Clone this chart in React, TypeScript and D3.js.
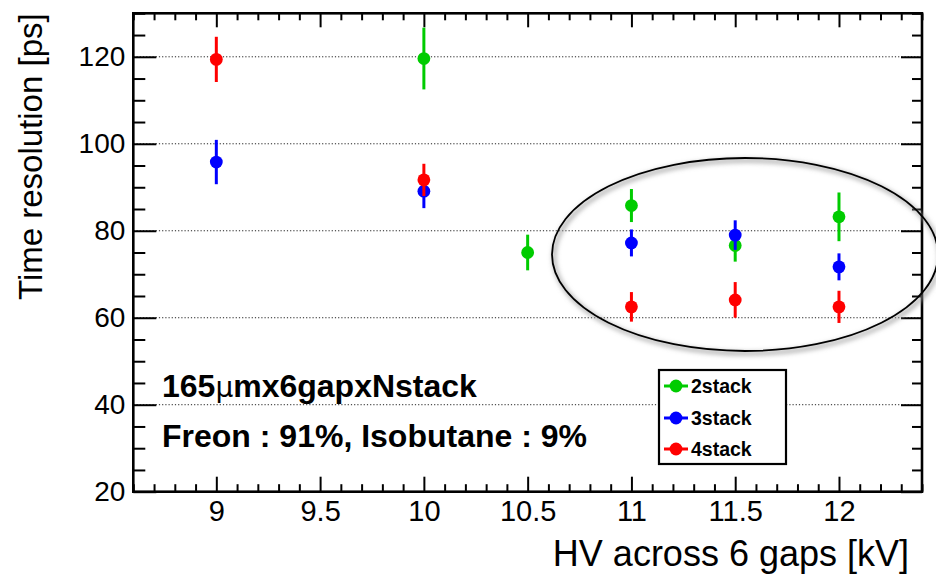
import React, { useRef, useEffect } from "react";
import * as d3 from "d3";

// data
const hv2 = [10, 10.5, 11, 11.5, 12];
const res2 = [119.6, 75.0, 85.8, 76.6, 83.2];
const err2 = [7.1, 4.1, 3.8, 3.7, 5.6];

const hv3 = [9, 10, 11, 11.5, 12];
const res3 = [95.8, 89.1, 77.2, 79.0, 71.7];
const err3 = [5.1, 3.9, 3.1, 3.4, 3.1];

const hv4 = [9, 10, 11, 11.5, 12];
const res4 = [119.4, 91.7, 62.5, 64.1, 62.5];
const err4 = [5.2, 3.7, 3.4, 4.1, 3.7];

const seriesNames = ["2stack", "3stack", "4stack"];
const seriesColors = ["#00cc00", "#0000ff", "#ff0000"];

const xMajorTicks = [9, 9.5, 10, 10.5, 11, 11.5, 12];
const yMajorTicks = [20, 40, 60, 80, 100, 120];
const yGridTicks = [40, 60, 80, 100, 120];

const xDomain = [8.6, 12.4];
const yDomain = [20, 130];

const FONT = "'Liberation Sans', Arial, Helvetica, sans-serif";

const App = () => {
  const svgRef = useRef<SVGSVGElement>(null);

  useEffect(() => {
    const width = 936;
    const height = 574;
    const margin = { top: 13.3, right: 14, bottom: 82.3, left: 133.3 };
    const w = width - margin.left - margin.right;
    const h = height - margin.top - margin.bottom;

    const root = d3.select(svgRef.current);
    root.selectAll("*").remove();
    root.attr("width", width).attr("height", height);

    root.append("rect").attr("width", width).attr("height", height).attr("fill", "#fff");

    const defs = root.append("defs");
    const filt = defs.append("filter").attr("id", "shadow").attr("x", "-20%").attr("y", "-20%").attr("width", "140%").attr("height", "140%");
    filt.append("feGaussianBlur").attr("stdDeviation", 2.5);

    const x = d3.scaleLinear().domain(xDomain).range([0, w]);
    const y = d3.scaleLinear().domain(yDomain).range([h, 0]);

    const g = root.append("g").attr("transform", `translate(${margin.left},${margin.top})`);

    // dotted grid
    g.selectAll(".grid")
      .data(yGridTicks)
      .enter()
      .append("line")
      .attr("x1", 0)
      .attr("x2", w)
      .attr("y1", (d) => y(d))
      .attr("y2", (d) => y(d))
      .attr("stroke", "#222")
      .attr("stroke-width", 1)
      .attr("stroke-dasharray", "1.2,2");

    const xMinor = d3.range(86, 125).map((d) => d / 10).filter((d) => Math.abs(d * 2 - Math.round(d * 2)) > 1e-6);
    const yMinor = d3.range(20, 131, 5).filter((d) => d % 20 !== 0);

    const styleAxis = (sel: any) => {
      sel.select(".domain").remove();
      sel.selectAll("line").attr("stroke", "#000").attr("stroke-width", 2);
    };

    // bottom axis
    g.append("g")
      .attr("transform", `translate(0,${h})`)
      .call(d3.axisBottom(x).tickValues(xMajorTicks).tickSize(-15).tickPadding(9).tickFormat((d: any) => String(d)))
      .call(styleAxis)
      .call((s: any) => s.selectAll("text").attr("font-family", FONT).attr("font-size", 29).attr("fill", "#000"));
    g.append("g")
      .attr("transform", `translate(0,${h})`)
      .call(d3.axisBottom(x).tickValues(xMinor).tickSize(-7.5).tickFormat(() => ""))
      .call(styleAxis);

    // top axis (mirror ticks)
    g.append("g")
      .call(d3.axisTop(x).tickValues(xMajorTicks).tickSize(-14).tickFormat(() => ""))
      .call(styleAxis);
    g.append("g")
      .call(d3.axisTop(x).tickValues(xMinor).tickSize(-7).tickFormat(() => ""))
      .call(styleAxis);

    // left axis
    g.append("g")
      .call(d3.axisLeft(y).tickValues(yMajorTicks).tickSize(-23).tickPadding(8).tickFormat((d: any) => String(d)))
      .call(styleAxis)
      .call((s: any) => s.selectAll("text").attr("font-family", FONT).attr("font-size", 28).attr("fill", "#000"));
    g.append("g")
      .call(d3.axisLeft(y).tickValues(yMinor).tickSize(-12).tickFormat(() => ""))
      .call(styleAxis);

    // right axis (mirror ticks)
    g.append("g")
      .attr("transform", `translate(${w},0)`)
      .call(d3.axisRight(y).tickValues(yMajorTicks).tickSize(-21).tickFormat(() => ""))
      .call(styleAxis);
    g.append("g")
      .attr("transform", `translate(${w},0)`)
      .call(d3.axisRight(y).tickValues(yMinor).tickSize(-10).tickFormat(() => ""))
      .call(styleAxis);

    // frame
    g.append("rect")
      .attr("width", w)
      .attr("height", h)
      .attr("fill", "none")
      .attr("stroke", "#000")
      .attr("stroke-width", 2.6);

    // axis titles
    root.append("text")
      .attr("x", 909)
      .attr("y", 566)
      .attr("text-anchor", "end")
      .attr("font-family", FONT)
      .attr("font-size", 36)
      .text("HV across 6 gaps [kV]");

    root.append("text")
      .attr("transform", `translate(42,${margin.top}) rotate(-90)`)
      .attr("text-anchor", "end")
      .attr("font-family", FONT)
      .attr("font-size", 33)
      .text("Time resolution [ps]");

    // graphs
    const series = [
      { hv: hv2, res: res2, err: err2 },
      { hv: hv3, res: res3, err: err3 },
      { hv: hv4, res: res4, err: err4 },
    ];
    series.forEach((s, i) => {
      const pts = s.hv.map((v, j) => ({ x: v, y: s.res[j], e: s.err[j] }));
      const sg = g.append("g");
      sg.selectAll("line")
        .data(pts)
        .enter()
        .append("line")
        .attr("x1", (d) => x(d.x))
        .attr("x2", (d) => x(d.x))
        .attr("y1", (d) => Math.max(0, y(d.y + d.e)))
        .attr("y2", (d) => y(d.y - d.e))
        .attr("stroke", seriesColors[i])
        .attr("stroke-width", 3);
      sg.selectAll("circle")
        .data(pts)
        .enter()
        .append("circle")
        .attr("cx", (d) => x(d.x))
        .attr("cy", (d) => y(d.y))
        .attr("r", 6.4)
        .attr("fill", seriesColors[i]);
    });

    // annotations
    const t1 = root.append("text")
      .attr("x", 162)
      .attr("y", 396.5)
      .attr("font-family", FONT)
      .attr("font-size", 32)
      .attr("font-weight", "bold");
    t1.append("tspan").text("165");
    t1.append("tspan").attr("font-weight", "normal").attr("font-family", "'DejaVu Sans', sans-serif").attr("font-size", 28).text("\u03bc");
    t1.append("tspan").text("mx6gapxNstack");

    root.append("text")
      .attr("x", 162)
      .attr("y", 447.3)
      .attr("font-family", FONT)
      .attr("font-size", 32)
      .attr("font-weight", "bold")
      .text("Freon : 91%, Isobutane : 9%");

    // legend
    const lg = root.append("g");
    lg.append("rect")
      .attr("x", 659)
      .attr("y", 370)
      .attr("width", 127)
      .attr("height", 94)
      .attr("fill", "#fff")
      .attr("stroke", "#000")
      .attr("stroke-width", 2.2);
    const legY = [386, 418, 449];
    seriesNames.forEach((name, i) => {
      lg.append("line")
        .attr("x1", 664)
        .attr("x2", 688)
        .attr("y1", legY[i])
        .attr("y2", legY[i])
        .attr("stroke", seriesColors[i])
        .attr("stroke-width", 3);
      lg.append("circle").attr("cx", 676).attr("cy", legY[i]).attr("r", 6.4).attr("fill", seriesColors[i]);
      lg.append("text")
        .attr("x", 691)
        .attr("y", legY[i] + 6.5)
        .attr("font-family", FONT)
        .attr("font-size", 19.5)
        .attr("font-weight", "bold")
        .text(name);
    });

    // highlight ellipse
    root.append("ellipse")
      .attr("cx", 747)
      .attr("cy", 257)
      .attr("rx", 193)
      .attr("ry", 96.5)
      .attr("fill", "none")
      .attr("stroke", "#999")
      .attr("stroke-width", 3)
      .attr("filter", "url(#shadow)");
    root.append("ellipse")
      .attr("cx", 745)
      .attr("cy", 254.5)
      .attr("rx", 193)
      .attr("ry", 96.5)
      .attr("fill", "none")
      .attr("stroke", "#000")
      .attr("stroke-width", 1.8);
  }, []);

  return (
    <svg
      ref={svgRef}
      style={{ position: "absolute", left: 0, top: 0, display: "block" }}
    ></svg>
  );
};

export default App;
